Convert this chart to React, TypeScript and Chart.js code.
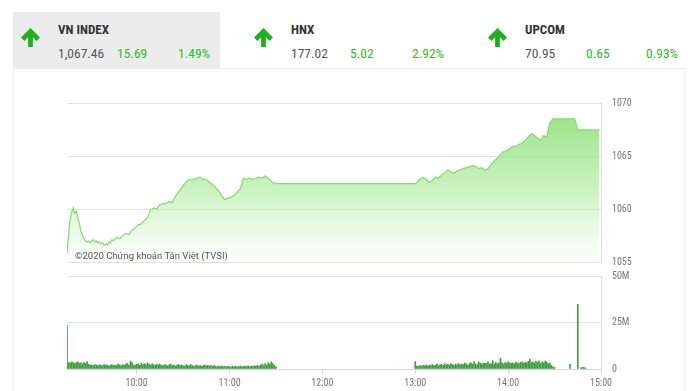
import React, { useEffect, useRef } from 'react';
import { Chart, registerables } from 'chart.js';
Chart.register(...registerables);

// ---------- data ----------
const priceTimes = [
  555, 556, 557, 558, 559, 560, 561, 562, 563, 564, 565, 566, 567, 568, 569, 570,
  571, 572, 573, 574, 575, 576, 577, 578, 579, 580, 581, 582, 583, 584, 585, 587,
  589, 591, 593, 595, 597, 599, 601, 603, 605, 607, 609, 611, 613, 615, 617, 619,
  621, 623, 625, 627, 629, 631, 633, 635, 637, 639, 641, 643, 645, 647, 649, 651,
  653, 655, 657, 659, 661, 663, 665, 667, 668, 669, 671, 673, 675, 677, 679, 681,
  683, 685, 687, 689, 690, 780, 781, 783, 785, 787, 789, 791, 793, 795, 797, 799,
  801, 803, 805, 807, 809, 811, 813, 815, 817, 819, 821, 823, 825, 827, 829, 831,
  833, 835, 837, 839, 841, 843, 845, 847, 849, 851, 853, 855, 857, 859, 861, 863,
  865, 866, 867, 869, 883, 885, 899,
];
const priceValues = [
  1055.8, 1057.5, 1059.0, 1059.7, 1060.1, 1059.6, 1059.8, 1059.2, 1058.6, 1057.9, 1057.5, 1057.2, 1057.0, 1056.9, 1057.0, 1056.8,
  1057.0, 1057.1, 1056.9, 1057.0, 1056.8, 1056.9, 1056.7, 1056.8, 1056.6, 1056.7, 1056.6, 1056.9, 1056.8, 1057.1, 1057.0, 1057.3,
  1057.2, 1057.5, 1057.7, 1057.6, 1058.0, 1058.2, 1058.5, 1058.6, 1058.9, 1059.2, 1059.9, 1060.1, 1060.0, 1060.4, 1060.5, 1060.5,
  1060.7, 1060.6, 1061.2, 1061.6, 1062.0, 1062.4, 1062.7, 1062.8, 1062.8, 1062.9, 1063.0, 1062.8, 1062.8, 1062.5, 1062.3, 1062.0,
  1061.7, 1061.2, 1060.9, 1061.0, 1061.1, 1061.3, 1061.6, 1061.9, 1062.4, 1062.9, 1062.8, 1062.9, 1062.8, 1062.9, 1063.0, 1062.9,
  1063.1, 1062.9, 1062.6, 1062.4, 1062.4, 1062.4, 1062.5, 1062.8, 1063.0, 1062.8, 1062.5, 1062.7, 1063.0, 1062.9, 1063.2, 1063.4,
  1063.7, 1063.5, 1063.4, 1063.6, 1063.7, 1063.8, 1063.9, 1064.0, 1064.1, 1064.0, 1063.8, 1063.9, 1063.7, 1063.8, 1064.2, 1064.5,
  1064.8, 1065.1, 1065.4, 1065.5, 1065.7, 1065.9, 1065.9, 1066.1, 1066.2, 1066.5, 1066.8, 1067.1, 1066.9, 1066.7, 1066.5, 1066.9,
  1066.8, 1067.6, 1068.1, 1068.5, 1068.5, 1067.46, 1067.46,
];

// volume in millions, one bar per minute
const morningStart = 555;
const volMorning = [
  23.3,
  3.5, 3.2, 3.8, 3.6, 2.9, 3.4, 3.9, 3.1, 3.3, 2.8,
  3.6, 3.0, 4.0, 2.5, 2.0, 2.2, 1.8, 2.4, 2.1, 1.9,
  2.3, 2.0, 1.7, 2.5, 1.9, 2.2, 1.6, 2.0, 2.4, 1.8,
  2.1, 1.9, 2.6, 2.2, 1.8, 2.3, 2.0, 2.7, 3.0, 2.1,
  4.2, 3.4, 2.2, 1.9, 2.5, 2.8, 2.0, 3.1, 2.4, 2.9,
  2.2, 3.3, 2.6, 2.0, 2.8, 2.3, 1.9, 2.5, 2.1, 2.7,
  2.0, 1.8, 2.4, 2.2, 1.7, 2.3, 2.6, 1.9, 2.1, 1.6,
  2.0, 2.5, 1.8, 2.2, 1.9, 1.5, 2.3, 2.0, 1.7, 2.4,
  1.9, 1.4, 1.8, 2.1, 1.6, 2.0, 1.5, 1.9, 2.2, 1.7,
  2.0, 1.6, 1.9, 1.4, 1.8, 1.5, 1.2, 1.6, 1.3, 1.7,
  1.2, 1.5, 1.1, 1.4, 1.3, 1.0, 1.5, 1.2, 1.4, 1.1,
  1.3, 1.6, 1.2, 1.5, 1.4, 1.3, 1.7, 1.2, 1.6, 1.4,
  1.8, 1.5, 2.0, 1.4, 2.2, 2.6, 1.8, 2.9, 2.1, 3.4,
  2.5, 3.8, 2.9, 2.0, 1.2,
];
const afternoonStart = 780;
const volAfternoon = [
  4.0,
  1.6, 1.4, 1.9, 1.5, 2.0, 1.7, 2.2, 1.6, 2.1, 1.8,
  2.4, 1.9, 2.0, 2.6, 1.8, 2.3, 2.5, 2.0, 2.8, 2.2,
  2.6, 2.1, 2.9, 2.4, 2.0, 2.7, 2.3, 3.0, 2.2, 2.6,
  2.4, 3.2, 2.7, 2.1, 2.9, 3.4, 2.5, 3.8, 2.8, 2.3,
  3.9, 3.1, 2.6, 3.1, 3.0, 3.0, 3.8, 2.7, 2.9, 4.5,
  2.6, 3.6, 2.8, 3.2, 5.7, 3.5, 2.7, 3.4, 3.1, 3.8,
  3.3, 3.0, 3.3, 2.8, 3.7, 3.2, 2.9, 3.5, 3.9, 3.1,
  3.6, 3.3, 4.1, 5.3, 3.4, 3.8, 3.2, 4.2, 3.5, 4.4,
  3.0, 3.9, 3.3, 4.3, 3.6, 2.8, 3.2, 1.9, 1.2, 0.8,
];
const closeTimes = [880, 885, 887, 888, 889, 890];
const closeVolumes = [2.5, 34.8, 0.6, 0.9, 0.7, 0.5];

const xTickValues = [600, 660, 720, 780, 840, 900];
const xTickLabels = ['10:00', '11:00', '12:00', '13:00', '14:00', '15:00'];
const priceTicks = [1055, 1060, 1065, 1070];
const priceTickLabels = ['1055', '1060', '1065', '1070'];
const volTicks = [0, 25, 50];
const volTickLabels = ['0', '25M', '50M'];

const indices = [
  { name: 'VN INDEX', value: '1,067.46', change: '15.69', pct: '1.49%' },
  { name: 'HNX', value: '177.02', change: '5.02', pct: '2.92%' },
  { name: 'UPCOM', value: '70.95', change: '0.65', pct: '0.93%' },
];

// ---------- layout ----------
const NARROW = "'Roboto Condensed','Liberation Sans Narrow','DejaVu Sans Condensed','Roboto',sans-serif";
const GREEN = '#2dbb2d';
const headerCols = [
  { arrowX: 20, textX: 58, chgX: 117, pctX: 178 },
  { arrowX: 253, textX: 291, chgX: 350, pctX: 412 },
  { arrowX: 487, textX: 525, chgX: 586, pctX: 646 },
];

function Arrow({ x }: { x: number }) {
  return (
    <svg style={{ position: 'absolute', left: x, top: 27 }} width="21" height="21" viewBox="0 0 21 21">
      <path d="M10.5 1 L20 10.5 L16.6 13.9 L12.9 10.2 L12.9 20 L8.1 20 L8.1 10.2 L4.4 13.9 L1 10.5 Z" fill="#1fb01f" />
    </svg>
  );
}

const noPad = (s: any) => {
  s.width = 50;
  s.paddingTop = 0;
  s.paddingBottom = 0;
};

export default function App() {
  const priceRef = useRef<HTMLCanvasElement>(null);
  const volRef = useRef<HTMLCanvasElement>(null);

  useEffect(() => {
    const pricePts = priceTimes.map((t, i) => ({ x: t, y: priceValues[i] }));
    const volPts = [
      ...volMorning.map((v, i) => ({ x: morningStart + i, y: v })),
      ...volAfternoon.map((v, i) => ({ x: afternoonStart + i, y: v })),
      ...closeTimes.map((t, i) => ({ x: t, y: closeVolumes[i] })),
    ];
    const tickFont = { family: NARROW, size: 10 };

    const priceChart = new Chart(priceRef.current!, {
      type: 'line',
      data: {
        datasets: [
          {
            data: pricePts,
            borderColor: '#88dc74',
            borderWidth: 1.3,
            pointRadius: 0,
            tension: 0,
            fill: 'start',
            backgroundColor: (c: any) => {
              const area = c.chart.chartArea;
              if (!area) return 'rgba(140,225,120,0.5)';
              const g = c.chart.ctx.createLinearGradient(0, area.top, 0, area.bottom);
              g.addColorStop(0, 'rgba(138,224,116,0.95)');
              g.addColorStop(0.55, 'rgba(168,234,150,0.6)');
              g.addColorStop(1, 'rgba(200,245,190,0.05)');
              return g;
            },
          },
        ],
      },
      options: {
        animation: false,
        responsive: false,
        maintainAspectRatio: false,
        layout: { padding: { left: 67, right: 49, top: 8, bottom: 8 } },
        plugins: { legend: { display: false }, tooltip: { enabled: false } },
        scales: {
          x: { type: 'linear', min: 555, max: 900, display: false },
          y: {
            position: 'right',
            min: 1055,
            max: 1070,
            afterBuildTicks: (s: any) => {
              s.ticks = priceTicks.map((v) => ({ value: v }));
            },
            afterFit: noPad,
            ticks: {
              padding: 11,
              color: '#777',
              font: tickFont,
              callback: (v: any) => {
                const i = priceTicks.indexOf(Number(v));
                return i >= 0 ? priceTickLabels[i] : '';
              },
            },
            grid: { color: '#e2e2e2', drawTicks: false },
            border: { display: true, color: '#dedede' },
          },
        },
      },
    } as any);

    const volChart = new Chart(volRef.current!, {
      type: 'bar',
      data: {
        datasets: [
          {
            data: volPts,
            backgroundColor: '#3f9f3f',
            barThickness: 1,
          },
        ],
      },
      options: {
        animation: false,
        responsive: false,
        maintainAspectRatio: false,
        layout: { padding: { left: 67, right: 49, top: 10, bottom: 1 } },
        plugins: { legend: { display: false }, tooltip: { enabled: false } },
        scales: {
          x: {
            type: 'linear',
            min: 555,
            max: 900,
            offset: false,
            afterBuildTicks: (s: any) => {
              s.ticks = xTickValues.map((v) => ({ value: v }));
            },
            afterFit: (s: any) => {
              s.paddingLeft = 0;
              s.paddingRight = 0;
            },
            ticks: {
              color: '#777',
              font: tickFont,
              padding: 3,
              maxRotation: 0,
              callback: (v: any) => {
                const i = xTickValues.indexOf(Number(v));
                return i >= 0 ? xTickLabels[i] : '';
              },
            },
            grid: { offset: false, drawOnChartArea: false, drawTicks: true, tickLength: 5, color: '#d6d6d6' },
            border: { display: true, color: '#d6d6d6' },
          },
          y: {
            position: 'right',
            min: 0,
            max: 50,
            afterBuildTicks: (s: any) => {
              s.ticks = volTicks.map((v) => ({ value: v }));
            },
            afterFit: noPad,
            ticks: {
              padding: 11,
              color: '#777',
              font: tickFont,
              callback: (v: any) => {
                const i = volTicks.indexOf(Number(v));
                return i >= 0 ? volTickLabels[i] : '';
              },
            },
            grid: { color: '#e2e2e2', drawTicks: false },
            border: { display: true, color: '#dedede' },
          },
        },
      },
    } as any);

    return () => {
      priceChart.destroy();
      volChart.destroy();
    };
  }, []);

  return (
    <div style={{ position: 'relative', width: 700, height: 391, background: '#fff', overflow: 'hidden' }}>
      <style>{`body{margin:0;}`}</style>
      {/* header */}
      <div style={{ position: 'absolute', left: 13, top: 12, width: 207, height: 56, background: '#ececec' }} />
      {indices.map((d, i) => {
        const c = headerCols[i];
        return (
          <React.Fragment key={d.name}>
            <Arrow x={c.arrowX} />
            <div style={{ position: 'absolute', left: c.textX, top: 22, fontFamily: NARROW, fontWeight: 700, fontSize: 13, color: '#333', lineHeight: '16px' }}>
              {d.name}
            </div>
            <div style={{ position: 'absolute', left: c.textX, top: 45, fontFamily: NARROW, fontSize: 13.5, color: '#555', lineHeight: '16px' }}>
              {d.value}
            </div>
            <div style={{ position: 'absolute', left: c.chgX, top: 45, fontFamily: NARROW, fontSize: 13.5, color: GREEN, lineHeight: '16px' }}>
              {d.change}
            </div>
            <div style={{ position: 'absolute', left: c.pctX, top: 45, fontFamily: NARROW, fontSize: 13.5, color: GREEN, lineHeight: '16px' }}>
              {d.pct}
            </div>
          </React.Fragment>
        );
      })}
      {/* panel */}
      <div style={{ position: 'absolute', left: 13, top: 68, width: 672, height: 330, border: '1px solid #ececec', boxSizing: 'border-box' }} />
      <canvas ref={priceRef} width={700} height={175} style={{ position: 'absolute', left: 0, top: 95, display: 'block' }} />
      <canvas ref={volRef} width={700} height={127} style={{ position: 'absolute', left: 0, top: 266, display: 'block' }} />
      <div style={{ position: 'absolute', left: 75, top: 249, fontFamily: "'Roboto',sans-serif", fontSize: 9.5, color: '#555', lineHeight: '13px', whiteSpace: 'nowrap' }}>
        ©2020 Chứng khoán Tân Việt (TVSI)
      </div>
    </div>
  );
}
